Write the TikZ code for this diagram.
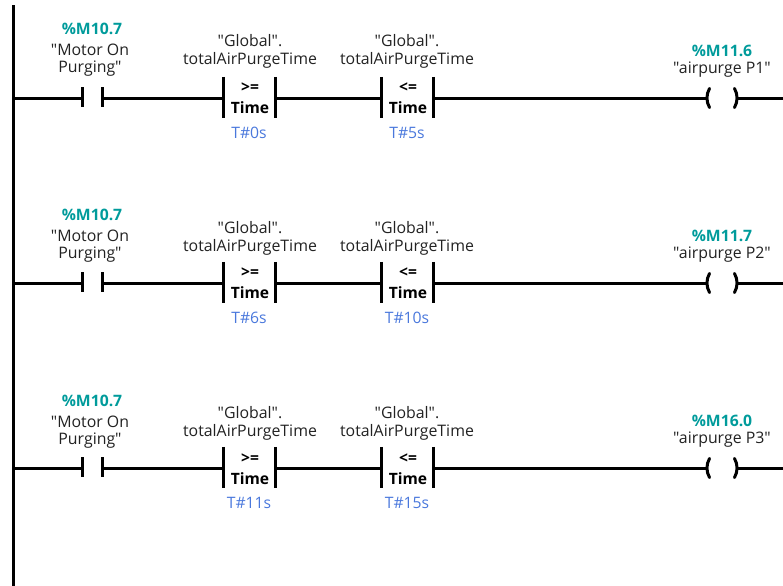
\documentclass[tikz,border=0pt]{standalone}
\usepackage{fontspec}
\setmainfont{Open Sans}[Ligatures=TeXOff]
\definecolor{addr}{HTML}{009B9B}
\definecolor{val}{HTML}{4A78DC}
\definecolor{txt}{HTML}{222222}
\tikzset{
  wire/.style={line width=3pt*0.75,black},
  bar/.style={line width=3pt*0.75,black},
  lbl/.style={font=\fontsize{11.9pt}{13pt}\selectfont,text=txt,inner sep=0pt,anchor=center,yshift=-0.7pt},
  addrlbl/.style={font=\fontsize{11.8pt}{13pt}\selectfont\bfseries,text=addr,inner sep=0pt,anchor=center,yshift=-0.4pt},
  oplbl/.style={font=\fontsize{11.7pt}{13pt}\selectfont\bfseries,text=black,inner sep=0pt,anchor=center,yshift=-0.4pt},
  vallbl/.style={font=\fontsize{11.8pt}{13pt}\selectfont,text=val,inner sep=0pt,anchor=center,yshift=-0.4pt},
}
% #1 row id, #2 rung y, #3 contact label shift, #4 compare label shift, #5 op shift, #6 first value, #7 second value, #8 address, #9 tag
\newcommand{\rungrow}[9]{%
  \coordinate (#1s) at (13.5,#2);
  \coordinate (#1cl) at (82.5,#2); \coordinate (#1cr) at (102.5,#2);
  \coordinate (#1al) at (223.5,#2); \coordinate (#1ar) at (275.5,#2);
  \coordinate (#1bl) at (381.5,#2); \coordinate (#1br) at (433,#2);
  \coordinate (#1pl) at (707,#2); \coordinate (#1pr) at (737,#2);
  \coordinate (#1e) at (783,#2);
  \draw[wire] (#1s) -- (#1cl);
  \draw[wire] (#1cr) -- (#1al);
  \draw[wire] (#1ar) -- (#1bl);
  \draw[wire] (#1br) -- (#1pl);
  \draw[wire] (#1pr) -- (#1e);
  \draw[bar] ([yshift=7.9pt]#1cl) -- ([yshift=-7.1pt]#1cl);
  \draw[bar] ([yshift=7.9pt]#1cr) -- ([yshift=-7.1pt]#1cr);
  \foreach \p in {al,ar,bl,br}{\draw[bar] ([yshift=15.8pt]#1\p) -- ([yshift=-15pt]#1\p);}
  \draw[bar,line cap=round] ([shift={(1.9pt,7.2pt)}]#1pl) .. controls ([shift={(-0.7pt,2.5pt)}]#1pl) and ([shift={(-0.7pt,-2.5pt)}]#1pl) .. ([shift={(1.9pt,-7.2pt)}]#1pl);
  \draw[bar,line cap=round] ([shift={(-1.9pt,7.2pt)}]#1pr) .. controls ([shift={(0.7pt,2.5pt)}]#1pr) and ([shift={(0.7pt,-2.5pt)}]#1pr) .. ([shift={(-1.9pt,-7.2pt)}]#1pr);
  \node[addrlbl] (#1caddr) at (92,#2-70+#3) {\%M10.7};
  \node[lbl] (#1cn1) at (90,#2-49+#3) {"Motor On};
  \node[lbl] (#1cn2) at (90,#2-30+#3) {Purging"};
  \node[lbl] (#1ag) at (250,#2-58+#4) {"Global".};
  \node[lbl] (#1at) at (250,#2-39+#4) {totalAirPurgeTime};
  \node[lbl] (#1bg) at (407,#2-58+#4) {"Global".};
  \node[lbl] (#1bt) at (407,#2-39+#4) {totalAirPurgeTime};
  \node[oplbl] (#1aop) at (250,#2-11+#5) {>=};
  \node[oplbl] (#1atm) at (250,#2+9+#5) {Time};
  \node[oplbl] (#1bop) at (408,#2-11+#5) {<=};
  \node[oplbl] (#1btm) at (408,#2+9+#5) {Time};
  \node[vallbl] (#1av) at (249,#2+34) {#6};
  \node[vallbl] (#1bv) at (407,#2+34) {#7};
  \node[addrlbl] (#1paddr) at (722,#2-48) {#8};
  \node[lbl] (#1pn) at (722,#2-29) {#9};
}
\begin{document}
\begin{tikzpicture}[x=0.75pt,y=-0.75pt]
\useasboundingbox (0,0) rectangle (783,586);
\coordinate (railtop) at (13.5,5);
\coordinate (railbot) at (13.5,586);
\draw[bar] (railtop) -- (railbot);
\rungrow{r1}{98}{0}{0}{0}{T\#0s}{T\#5s}{\%M11.6}{"airpurge P1"}
\rungrow{r2}{283}{1}{2}{0}{T\#6s}{T\#10s}{\%M11.7}{"airpurge P2"}
\rungrow{r3}{468}{2}{2}{1}{T\#11s}{T\#15s}{\%M16.0}{"airpurge P3"}
\end{tikzpicture}
\end{document}
